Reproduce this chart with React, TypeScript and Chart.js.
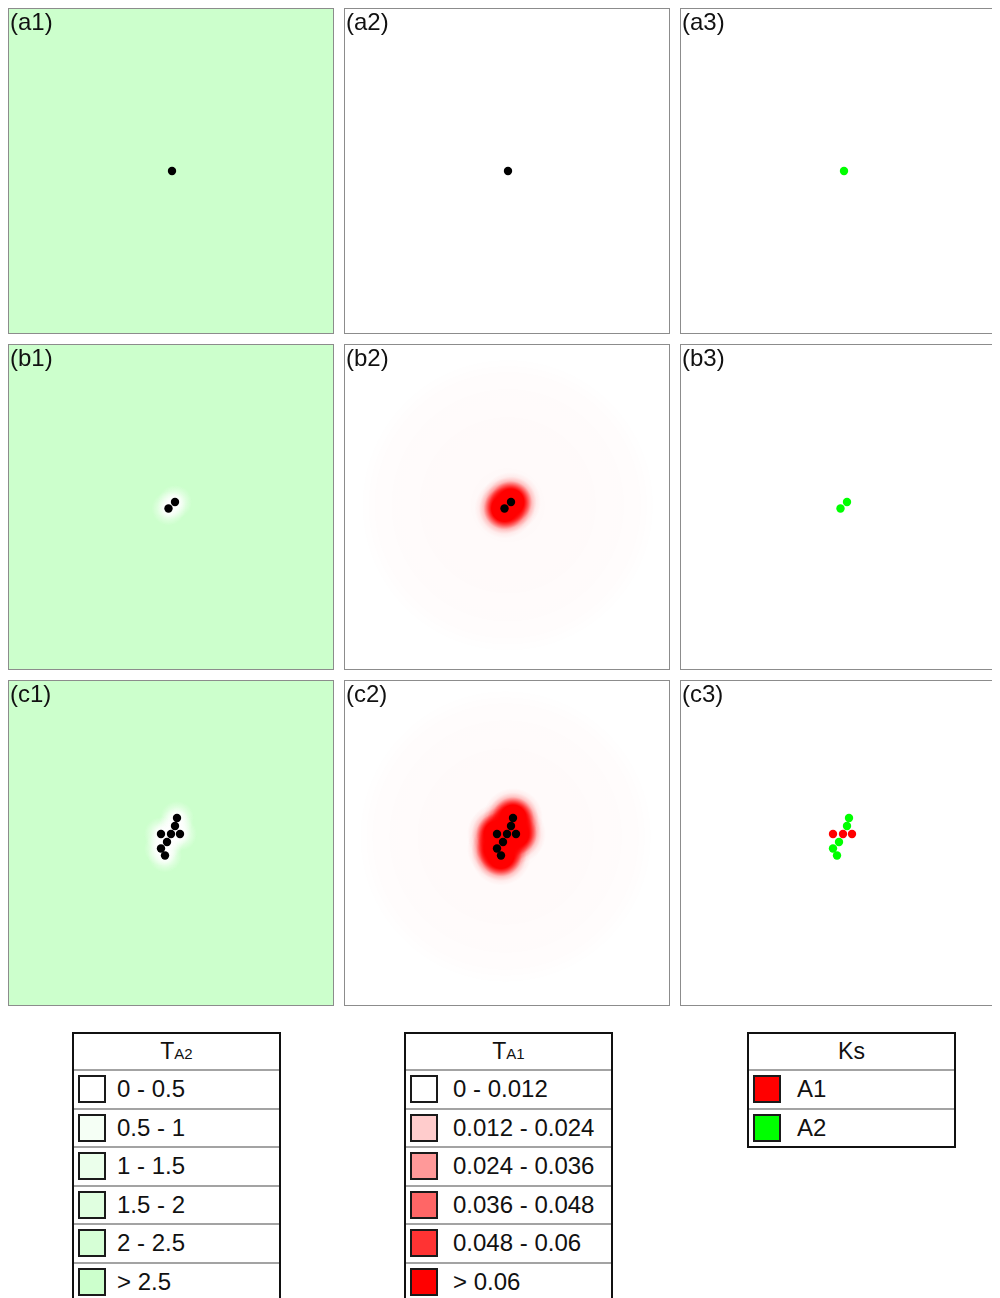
import React, { useEffect, useRef } from "react";
import { Chart, registerables } from "chart.js";

Chart.register(...registerables);

// ---------- data ----------
const panelLabels = [
  ["(a1)", "(a2)", "(a3)"],
  ["(b1)", "(b2)", "(b3)"],
  ["(c1)", "(c2)", "(c3)"],
];

// cell positions per stage (space units, origin at domain centre, y up)
const stageAX = [1];
const stageAY = [0];
const stageAType = ["A2"];

const stageBX = [-2.5, 4];
const stageBY = [-1.5, 5];
const stageBType = ["A2", "A2"];

const stageCX = [6, 4, -10, 0, 9, -4, -10, -6];
const stageCY = [25, 17, 9, 9, 9, 1, -5.5, -12.5];
const stageCType = ["A2", "A2", "A1", "A1", "A1", "A2", "A2", "A2"];

// field state per stage
const ta2Depleted = [false, true, true];
const ta1Secreted = [false, true, true];

const domainMin = -162;
const domainMax = 162;

// legends
const ta2Labels = ["0 - 0.5", "0.5 - 1", "1 - 1.5", "1.5 - 2", "2 - 2.5", "> 2.5"];
const ta2Colors = ["#ffffff", "#f5fff5", "#ebffeb", "#e0ffe0", "#d6ffd6", "#ccffcc"];
const ta1Labels = ["0 - 0.012", "0.012 - 0.024", "0.024 - 0.036", "0.036 - 0.048", "0.048 - 0.06", "> 0.06"];
const ta1Colors = ["#ffffff", "#ffcccc", "#ff9999", "#ff6666", "#ff3333", "#ff0000"];
const ksLabels = ["A1", "A2"];
const ksColors = ["#ff0000", "#00ff00"];

// ---------- helpers ----------
const stages = [
  { xs: stageAX, ys: stageAY, types: stageAType },
  { xs: stageBX, ys: stageBY, types: stageBType },
  { xs: stageCX, ys: stageCY, types: stageCType },
];

const FONT = "'Liberation Sans', Arial, sans-serif";
const PANEL = 326;
const PITCH = 336;

function gradientFill(stops: [number, string][], radius: number) {
  return (ctx: any) => {
    if (ctx.type !== "data") return "rgba(0,0,0,0)";
    const chart = ctx.chart;
    if (!chart.chartArea || !chart.scales.x) return "rgba(0,0,0,0)";
    const px = chart.scales.x.getPixelForValue(ctx.raw.x);
    const py = chart.scales.y.getPixelForValue(ctx.raw.y);
    const g = chart.ctx.createRadialGradient(px, py, 0, px, py, radius);
    stops.forEach(([o, c]) => g.addColorStop(o, c));
    return g;
  };
}

const CORE_R = 30;
const redCoreStops: [number, string][] = [
  [0, "rgba(255,0,0,1)"],
  [0.43, "rgba(255,0,0,1)"],
  [0.57, "rgba(255,0,0,0.6)"],
  [0.7, "rgba(255,0,0,0.22)"],
  [0.85, "rgba(255,0,0,0.05)"],
  [1, "rgba(255,0,0,0)"],
];
const TAIL_R = 148;
const redTailStops: [number, string][] = [
  [0, "rgba(255,0,0,0.025)"],
  [0.5, "rgba(255,0,0,0.018)"],
  [0.88, "rgba(255,0,0,0.012)"],
  [1, "rgba(255,0,0,0)"],
];
const HALO_R = 17;
const whiteHaloStops: [number, string][] = [
  [0, "rgba(255,255,255,1)"],
  [0.35, "rgba(255,255,255,0.8)"],
  [0.7, "rgba(255,255,255,0.3)"],
  [1, "rgba(255,255,255,0)"],
];

function Panel({ row, col }: { row: number; col: number }) {
  const ref = useRef<HTMLCanvasElement>(null);
  useEffect(() => {
    const st = stages[row];
    const pts = st.xs.map((x, i) => ({ x, y: st.ys[i] }));
    const dotColors =
      col === 2
        ? st.types.map((t) => ksColors[ksLabels.indexOf(t)])
        : st.types.map(() => "#000000");
    const datasets: any[] = [
      {
        label: "cells",
        data: pts.map((p) => ({ ...p })),
        order: 0,
        pointRadius: 4.2,
        pointBorderWidth: 0,
        pointBackgroundColor: dotColors,
        pointBorderColor: dotColors,
        showLine: false,
      },
    ];
    if (col === 0 && ta2Depleted[row]) {
      datasets.push({
        label: "TA2 depletion",
        data: pts.map((p) => ({ ...p })),
        order: 1,
        pointRadius: HALO_R,
        pointBorderWidth: 0,
        pointBackgroundColor: gradientFill(whiteHaloStops, HALO_R),
        showLine: false,
      });
    }
    if (col === 1 && ta1Secreted[row]) {
      datasets.push({
        label: "TA1 near field",
        data: pts.map((p) => ({ ...p })),
        order: 1,
        pointRadius: CORE_R,
        pointBorderWidth: 0,
        pointBackgroundColor: gradientFill(redCoreStops, CORE_R),
        showLine: false,
      });
      const cx = st.xs.reduce((a, b) => a + b, 0) / st.xs.length;
      const cy = st.ys.reduce((a, b) => a + b, 0) / st.ys.length;
      datasets.push({
        label: "TA1 far field",
        data: [{ x: cx, y: cy }],
        order: 2,
        pointRadius: TAIL_R,
        pointBorderWidth: 0,
        pointBackgroundColor: gradientFill(redTailStops, TAIL_R),
        showLine: false,
      });
    }
    const chart = new Chart(ref.current!, {
      type: "scatter",
      data: { datasets },
      options: {
        animation: false,
        responsive: false,
        maintainAspectRatio: false,
        events: [],
        layout: { padding: 0, autoPadding: false },
        plugins: { legend: { display: false }, tooltip: { enabled: false } },
        scales: {
          x: { type: "linear", min: domainMin, max: domainMax, display: false },
          y: { type: "linear", min: domainMin, max: domainMax, display: false },
        },
      },
    });
    return () => chart.destroy();
  }, [row, col]);

  return (
    <div
      style={{
        position: "absolute",
        left: col * PITCH,
        top: row * PITCH,
        width: PANEL,
        height: PANEL,
        boxSizing: "border-box",
        border: "1px solid #8c8c8c",
        background: col === 0 ? ta2Colors[5] : "#ffffff",
      }}
    >
      <canvas ref={ref} width={324} height={324} style={{ display: "block" }} />
      <div
        style={{
          position: "absolute",
          left: 1,
          top: 1,
          fontFamily: FONT,
          fontSize: 24,
          lineHeight: "24px",
          color: "#111",
        }}
      >
        {panelLabels[row][col]}
      </div>
    </div>
  );
}

function LegendBox({
  left,
  title,
  sub,
  labels,
  colors,
  gap,
}: {
  left: number;
  title: string;
  sub: string;
  labels: string[];
  colors: string[];
  gap: number;
}) {
  return (
    <div
      style={{
        position: "absolute",
        left,
        top: 1024,
        width: 209,
        boxSizing: "border-box",
        border: "2px solid #111",
        background: "#fff",
        fontFamily: FONT,
        color: "#111",
      }}
    >
      <div
        style={{
          height: 35,
          display: "flex",
          alignItems: "center",
          justifyContent: "center",
          fontSize: 23,
        }}
      >
        <span>
          {title}
          {sub ? <span style={{ fontSize: 15 }}>{sub}</span> : null}
        </span>
      </div>
      {labels.map((l, i) => (
        <div
          key={i}
          style={{
            height: 36.5,
            borderTop: "2px solid #a3a3a3",
            display: "flex",
            alignItems: "center",
            fontSize: 24,
          }}
        >
          <div
            style={{
              width: 28,
              height: 28,
              boxSizing: "border-box",
              border: "2px solid #1a1a1a",
              background: colors[i],
              marginLeft: 4,
              marginRight: gap,
              flex: "none",
            }}
          />
          <span>{l}</span>
        </div>
      ))}
    </div>
  );
}

export default function App() {
  const cells = [];
  for (let r = 0; r < 3; r++) for (let c = 0; c < 3; c++) cells.push(<Panel key={`${r}-${c}`} row={r} col={c} />);
  return (
    <div style={{ position: "relative", width: 992, height: 1290, overflow: "hidden" }}>
      {cells}
      <LegendBox left={64} title="T" sub="A2" labels={ta2Labels} colors={ta2Colors} gap={11} />
      <LegendBox left={396} title="T" sub="A1" labels={ta1Labels} colors={ta1Colors} gap={15} />
      <LegendBox left={739} title="Ks" sub="" labels={ksLabels} colors={ksColors} gap={16} />
    </div>
  );
}
